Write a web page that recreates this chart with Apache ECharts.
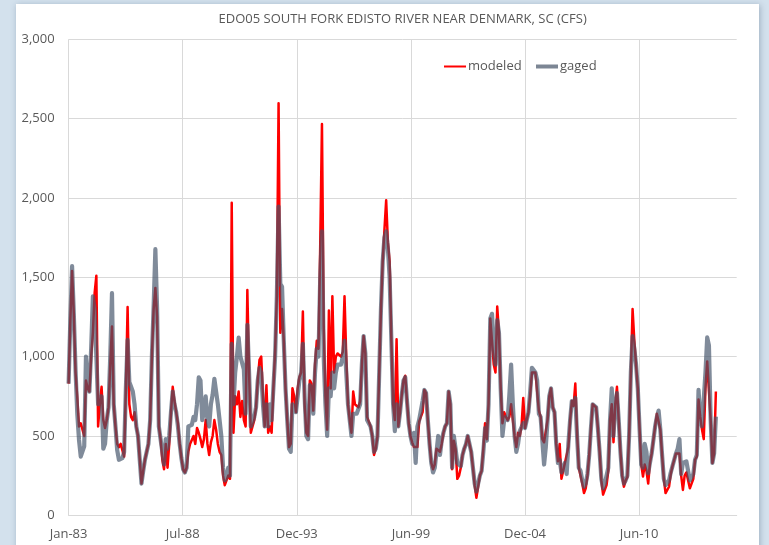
<!DOCTYPE html>
<html>
<head>
<meta charset="utf-8">
<script src="https://cdn.jsdelivr.net/npm/echarts@6/dist/echarts.min.js"></script>
<style>
html,body{margin:0;padding:0;background:#d3e1ed;}
#chart{width:769px;height:545px;}
</style>
</head>
<body>
<div id="chart"></div>
<script>
// Monthly flows (cfs), starting Jan-1983, one value per month
const gaged = [
830,1230,1570,1270,915,640,475,370,360,435,1000,800,
780,1050,1380,1300,1300,700,700,750,420,450,600,680,
1000,1400,700,560,410,350,350,360,400,800,1105,840,
830,780,700,560,500,350,200,280,350,350,450,600,
1000,1315,1677,1300,560,480,400,320,480,420,500,650,
780,700,650,560,450,360,290,270,300,560,560,570,
620,600,700,870,850,600,650,750,600,560,700,760,
860,780,700,600,500,300,220,240,300,250,1080,700,
900,1000,1120,1000,960,920,640,1200,900,560,560,620,
680,850,930,900,700,560,700,560,700,600,800,1000,
1380,1946,1460,1440,1100,800,600,420,400,700,700,650,
750,850,900,1080,750,500,480,820,800,640,900,1050,
1000,1500,1790,1000,700,500,800,750,900,800,900,950,
950,950,1000,1100,900,700,600,500,640,640,640,650,
700,950,1130,1020,600,580,560,500,400,420,500,900,
1300,1600,1750,1790,1680,1500,1100,700,530,700,560,650,
760,850,870,720,580,500,450,520,330,560,600,600,
720,790,770,600,450,330,270,300,400,500,380,470,
520,560,580,780,700,300,500,420,330,330,310,380,
420,450,500,490,400,300,200,150,150,250,280,400,
550,470,700,1240,1270,1050,950,1230,1150,800,500,600,
620,600,760,950,700,500,400,450,530,520,580,550,
600,650,780,930,920,900,850,640,620,470,320,430,
600,750,800,680,650,450,330,350,270,300,330,260,
450,600,720,690,740,500,300,280,220,180,200,260,
380,550,700,700,680,550,400,230,170,200,210,300,
600,800,500,700,770,600,400,250,200,220,250,500,
900,1130,1050,950,800,550,320,300,450,400,265,330,
390,400,560,620,660,540,380,230,190,180,220,270,
310,350,390,420,480,260,330,340,340,330,220,220,
260,350,380,790,620,560,570,900,1121,1070,600,330,
391,622
];
const modeled = [
830,1230,1540,1270,900,740,560,580,590,500,850,800,
780,1000,1150,1400,1510,560,700,810,600,550,600,680,
950,1190,700,560,450,430,450,440,370,800,1313,700,
620,600,650,560,500,350,200,280,350,360,450,600,
1000,1300,1433,1250,560,480,350,290,450,300,450,650,
810,720,650,580,450,360,290,270,300,400,450,460,
500,450,550,520,480,430,480,600,450,380,460,500,
600,540,450,400,380,250,190,200,250,230,1970,520,
750,700,780,620,720,600,560,1420,900,520,520,600,
680,850,980,1000,750,560,820,520,560,520,800,1030,
1380,2597,1150,1300,1100,800,600,430,450,800,750,650,
800,870,900,1285,700,520,500,850,830,660,950,1100,
1050,1700,2466,1200,750,540,1290,800,1380,900,1000,1020,
1020,1000,1030,1380,1000,700,600,520,780,700,700,680,
720,950,1130,1020,620,590,560,500,380,420,500,900,
1300,1600,1800,1985,1720,1600,1100,700,600,1110,560,650,
760,850,880,720,580,500,460,430,420,430,590,600,
650,790,770,600,450,330,290,320,420,420,400,450,
520,560,580,780,700,290,470,420,230,250,300,380,
420,450,500,490,400,300,190,110,100,250,280,420,
580,480,700,1240,1230,950,900,1316,1150,800,580,650,
620,600,620,700,600,500,430,520,500,560,740,550,
600,650,760,900,890,900,900,660,620,480,460,470,
600,750,800,680,650,450,340,450,230,280,330,320,
430,600,720,690,830,520,300,290,200,140,170,250,
380,550,700,700,680,550,400,220,130,160,190,280,
600,700,460,700,810,600,400,250,180,220,240,500,
900,1300,1100,950,800,550,320,244,320,280,200,330,
390,400,560,640,640,540,380,230,140,145,180,260,
310,350,390,390,390,250,160,250,270,265,170,160,
230,350,370,730,620,540,480,800,970,970,600,330,
391,780
];
const tickLabels = ['Jan-83','Jul-88','Dec-93','Jun-99','Dec-04','Jun-10'];
const yTicks = [0, 500, 1000, 1500, 2000, 2500, 3000];
const titleText = 'EDO05 SOUTH FORK EDISTO RIVER NEAR DENMARK, SC (CFS)';

const TICK_STEP = 65.75; // months between date-axis ticks (2000 days)
const X_MAX = 385;
const FONT = 'Open Sans';
const TXT = '#595959';

const toPairs = arr => arr.map((v, i) => [i, v]);

const chart = echarts.init(document.getElementById('chart'), null, {renderer: 'canvas'});
chart.setOption({
  backgroundColor: '#d3e1ed',
  animation: false,
  graphic: [{
    type: 'rect', z: -10, silent: true,
    shape: {x: 16, y: 4, width: 743, height: 560},
    style: {fill: '#ffffff', shadowBlur: 6, shadowColor: 'rgba(60,80,110,0.35)', shadowOffsetX: 1, shadowOffsetY: 1}
  }],
  title: {
    text: titleText,
    left: 402.6, top: 13, textAlign: 'center', padding: 0,
    textStyle: {fontFamily: FONT, fontSize: 13, fontWeight: 'normal', color: TXT}
  },
  legend: [{
    data: ['modeled'], left: 444, top: 60, padding: 0,
    itemWidth: 22, itemHeight: 2, itemGap: 0, icon: 'rect',
    textStyle: {fontFamily: FONT, fontSize: 13, color: TXT, padding: [0,0,0,-3]}
  }, {
    data: ['gaged'], left: 536, top: 60, padding: 0,
    itemWidth: 22, itemHeight: 4, itemGap: 0, icon: 'rect',
    textStyle: {fontFamily: FONT, fontSize: 13, color: TXT, padding: [0,0,0,-3]}
  }],
  grid: {left: 68.6, right: 32.3, top: 39.3, bottom: 29.7, containLabel: false},
  xAxis: {
    type: 'value', min: 0, max: X_MAX, interval: TICK_STEP,
    axisLine: {show: true, lineStyle: {color: '#d9d9d9', width: 1}},
    axisTick: {show: false},
    splitLine: {show: true, lineStyle: {color: ['#d9d9d9','#d9d9d9','#d9d9d9','#d9d9d9','#d9d9d9','#d9d9d9','rgba(0,0,0,0)'], width: 1}},
    axisLabel: {
      margin: 12, fontFamily: FONT, fontSize: 13, color: TXT,
      showMaxLabel: false,
      formatter: v => {
        const k = Math.round(v / TICK_STEP);
        return (Math.abs(v - k * TICK_STEP) < 0.01 && tickLabels[k]) ? tickLabels[k] : '';
      }
    }
  },
  yAxis: {
    type: 'value', min: yTicks[0], max: yTicks[yTicks.length - 1], interval: yTicks[1] - yTicks[0],
    axisLine: {show: false}, axisTick: {show: false},
    splitLine: {show: true, lineStyle: {color: '#d9d9d9', width: 1}},
    axisLabel: {
      margin: 14, fontFamily: FONT, fontSize: 13, color: TXT,
      formatter: v => v.toLocaleString('en-US')
    }
  },
  series: [{
    name: 'modeled', type: 'line', data: toPairs(modeled),
    showSymbol: false, symbol: 'none', z: 2,
    lineStyle: {color: '#ff0000', width: 2.5, join: 'round'},
    itemStyle: {color: '#ff0000'}
  }, {
    name: 'gaged', type: 'line', data: toPairs(gaged),
    showSymbol: false, symbol: 'none', z: 3,
    lineStyle: {color: 'rgba(68,84,106,0.68)', width: 4.2, join: 'round'},
    itemStyle: {color: '#7c8694'}
  }]
});
</script>
</body>
</html>
